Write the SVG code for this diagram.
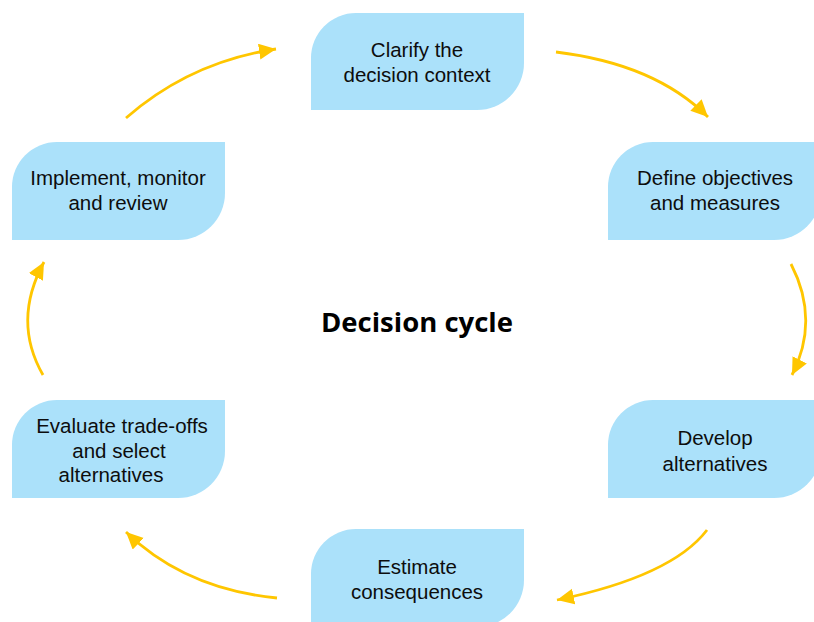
<svg xmlns="http://www.w3.org/2000/svg" width="814" height="622" viewBox="0 0 814 622">
<defs>
<style>
.box{fill:#abe1fa;}
.lbl{font-family:"Liberation Sans",Arial,sans-serif;font-size:20.5px;fill:#0d0d0d;text-anchor:middle;}
.ttl{font-family:"Open Sans","Noto Sans","Liberation Sans",sans-serif;font-size:27.5px;font-weight:bold;fill:#000;text-anchor:middle;}
.arr{fill:none;stroke:#ffc600;stroke-width:2.8;marker-end:url(#ah);}
</style>
<marker id="ah" markerUnits="userSpaceOnUse" markerWidth="19" markerHeight="17" refX="17" refY="8" orient="auto">
<path d="M0,0 L17,8 L0,16 z" fill="#ffc600"/>
</marker>
</defs>
<rect width="814" height="622" fill="#fff"/>
<g id="connectors">
<path class="arr" d="M556,52 Q655,64 708,117"/>
<path class="arr" d="M791,264 Q820,320 792,375"/>
<path class="arr" d="M707,530 Q672,576 557,600"/>
<path class="arr" d="M277,598 Q185,589 126,532"/>
<path class="arr" d="M43,375 Q12,321 44,262"/>
<path class="arr" d="M126,118 Q190,62 276,49"/>
</g>
<g id="clarify">
<path class="box" d="M356,13 H524 V63 A47,47 0 0 1 477,110 H311 V58 A45,45 0 0 1 356,13 Z"/>
<text class="lbl"><tspan x="417" y="57">Clarify the</tspan><tspan x="417" y="82">decision context</tspan></text>
</g>
<g id="define">
<path class="box" d="M653,142 H821 V193 A47,47 0 0 1 774,240 H608 V187 A45,45 0 0 1 653,142 Z"/>
<text class="lbl"><tspan x="715" y="185">Define objectives</tspan><tspan x="715" y="210">and measures</tspan></text>
</g>
<g id="develop">
<path class="box" d="M653,400 H821 V451 A47,47 0 0 1 774,498 H608 V445 A45,45 0 0 1 653,400 Z"/>
<text class="lbl"><tspan x="715" y="445">Develop</tspan><tspan x="715" y="471">alternatives</tspan></text>
</g>
<g id="estimate">
<path class="box" d="M356,529 H524 V580 A47,47 0 0 1 477,627 H311 V574 A45,45 0 0 1 356,529 Z"/>
<text class="lbl"><tspan x="417" y="574">Estimate</tspan><tspan x="417" y="599">consequences</tspan></text>
</g>
<g id="evaluate">
<path class="box" d="M57,400 H225 V451 A47,47 0 0 1 178,498 H12 V445 A45,45 0 0 1 57,400 Z"/>
<text class="lbl"><tspan x="122" y="433">Evaluate trade-offs</tspan><tspan x="119" y="457.5">and select</tspan><tspan x="111" y="482">alternatives</tspan></text>
</g>
<g id="implement">
<path class="box" d="M57,142 H225 V193 A47,47 0 0 1 178,240 H12 V187 A45,45 0 0 1 57,142 Z"/>
<text class="lbl"><tspan x="118" y="185">Implement, monitor</tspan><tspan x="118" y="210">and review</tspan></text>
</g>
<g id="title">
<text class="ttl" x="417" y="332">Decision cycle</text>
</g>
</svg>
